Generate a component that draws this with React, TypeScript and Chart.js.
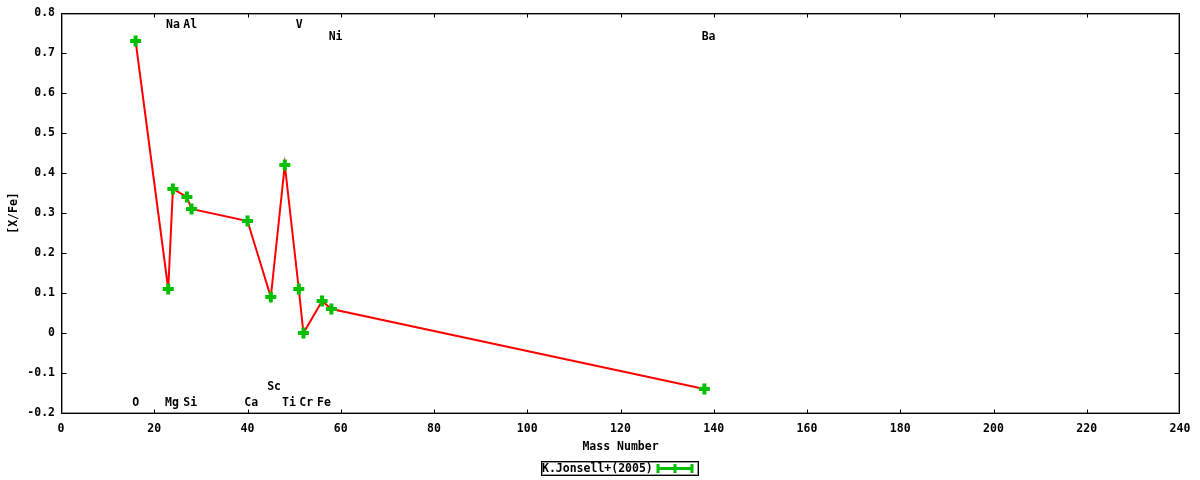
import React, { useEffect, useRef } from "react";
import { Chart, registerables } from "chart.js";

Chart.register(...registerables);

// Data: element mass numbers and [X/Fe] values (K. Jonsell+ 2005)
const elements = ["O", "Na", "Mg", "Al", "Si", "Ca", "Sc", "Ti", "V", "Cr", "Fe", "Ni", "Ba"];
const massNumbers = [16, 23, 24, 27, 28, 40, 45, 48, 51, 52, 56, 58, 138];
const xFeValues = [0.73, 0.11, 0.36, 0.34, 0.31, 0.28, 0.09, 0.42, 0.11, 0.0, 0.08, 0.06, -0.14];

// Element name labels placed in data coordinates
const labelNames = ["Na", "Al", "V", "Ni", "Ba", "O", "Mg", "Si", "Ca", "Sc", "Ti", "Cr", "Fe"];
const labelX = [24.0, 27.7, 51.1, 58.9, 138.9, 16.0, 23.8, 27.7, 40.8, 45.7, 48.9, 52.6, 56.4];
const labelY = [0.769, 0.769, 0.769, 0.739, 0.739, -0.175, -0.175, -0.175, -0.175, -0.135, -0.175, -0.175, -0.175];

const seriesName = "K.Jonsell+(2005)";
const xTitle = "Mass Number";
const yTitle = "[X/Fe]";

const FAMILY = "'DejaVu Sans Mono', 'Liberation Mono', monospace";
const FONT = "bold 11.5px " + FAMILY;
const LINE_RED = "#ff0000";
const POINT_GREEN = "#00c000";

const overlayPlugin = {
  id: "gnuplotOverlay",
  afterDraw(chart: any) {
    const ctx = chart.ctx as CanvasRenderingContext2D;
    const area = chart.chartArea;
    const xs = chart.scales.x;
    const ys = chart.scales.y;
    ctx.save();

    // element labels
    ctx.font = FONT;
    ctx.fillStyle = "#000";
    ctx.textAlign = "center";
    ctx.textBaseline = "middle";
    for (let i = 0; i < labelNames.length; i++) {
      ctx.fillText(labelNames[i], xs.getPixelForValue(labelX[i]), ys.getPixelForValue(labelY[i]));
    }

    // frame
    const l = Math.round(area.left) + 0.5;
    const r = Math.round(area.right) - 0.5;
    const t = Math.round(area.top) + 0.5;
    const b = Math.round(area.bottom) + 0.5;
    ctx.strokeStyle = "#999";
    ctx.lineWidth = 1;
    ctx.strokeRect(l + 1, t + 1, r - l - 2, b - t - 2);
    ctx.strokeStyle = "#000";
    ctx.strokeRect(l, t, r - l, b - t);

    // inward ticks (mirrored)
    ctx.beginPath();
    for (const tk of xs.ticks) {
      const px = Math.min(r, Math.max(l, Math.round(xs.getPixelForValue(tk.value)) + 0.5));
      ctx.moveTo(px, b);
      ctx.lineTo(px, b - 4);
      ctx.moveTo(px, t);
      ctx.lineTo(px, t + 4);
    }
    for (const tk of ys.ticks) {
      const py = Math.round(ys.getPixelForValue(tk.value)) + 0.5;
      ctx.moveTo(l, py);
      ctx.lineTo(l + 5, py);
      ctx.moveTo(r, py);
      ctx.lineTo(r - 5, py);
    }
    ctx.stroke();

    // axis titles
    ctx.fillStyle = "#000";
    ctx.textAlign = "center";
    ctx.textBaseline = "middle";
    ctx.fillText(xTitle, (area.left + area.right) / 2, 447);
    ctx.save();
    ctx.translate(14, (area.top + area.bottom) / 2);
    ctx.rotate(-Math.PI / 2);
    ctx.fillText(yTitle, 0, 0);
    ctx.restore();

    // legend box
    const boxL = 541.5, boxT = 461.5, boxW = 157, boxH = 14;
    ctx.strokeStyle = "#999";
    ctx.strokeRect(boxL + 1, boxT + 1, boxW - 2, boxH - 2);
    ctx.strokeStyle = "#000";
    ctx.strokeRect(boxL, boxT, boxW, boxH);
    ctx.textAlign = "left";
    ctx.fillText(seriesName, 542, boxT + boxH / 2 + 0.5);
    // legend sample: green line with error-bar caps
    ctx.strokeStyle = POINT_GREEN;
    ctx.lineWidth = 3;
    ctx.beginPath();
    ctx.moveTo(657, 468.5);
    ctx.lineTo(693, 468.5);
    ctx.moveTo(658, 464);
    ctx.lineTo(658, 473);
    ctx.moveTo(692, 464);
    ctx.lineTo(692, 473);
    ctx.moveTo(675, 464);
    ctx.lineTo(675, 473);
    ctx.stroke();

    ctx.restore();
  },
};

export default function App() {
  const canvasRef = useRef<HTMLCanvasElement | null>(null);

  useEffect(() => {
    document.body.style.margin = "0";
    const canvas = canvasRef.current;
    if (!canvas) return;
    const tickFont = { family: FAMILY, size: 11.5, weight: "bold" as const };
    const chart = new Chart(canvas, {
      type: "line",
      data: {
        datasets: [
          {
            label: seriesName,
            data: massNumbers.map((m, i) => ({ x: m, y: xFeValues[i] })),
            borderColor: LINE_RED,
            borderWidth: 2,
            pointStyle: "cross",
            pointRadius: 5.5,
            pointBorderWidth: 4,
            pointBorderColor: POINT_GREEN,
            pointBackgroundColor: POINT_GREEN,
            tension: 0,
            fill: false,
          },
        ],
      },
      options: {
        responsive: false,
        animation: false,
        layout: { padding: { left: 0, right: 20, top: 13, bottom: 0 } },
        plugins: {
          legend: { display: false },
          tooltip: { enabled: false },
        },
        scales: {
          x: {
            type: "linear",
            min: 0,
            max: 240,
            border: { display: false },
            grid: { display: false, drawTicks: false },
            ticks: {
              stepSize: 20,
              padding: 9,
              color: "#000",
              maxRotation: 0,
              font: tickFont,
            },
            afterFit: (scale: any) => {
              scale.height = 67;
            },
          },
          y: {
            type: "linear",
            min: -0.2,
            max: 0.8,
            border: { display: false },
            grid: { display: false, drawTicks: false },
            ticks: {
              stepSize: 0.1,
              padding: 6,
              color: "#000",
              font: tickFont,
              callback: (v: any) => (Math.abs(Number(v)) < 1e-9 ? "0" : Number(v).toFixed(1)),
            },
            afterFit: (scale: any) => {
              scale.width = 61;
            },
          },
        },
      },
      plugins: [overlayPlugin],
    });
    return () => chart.destroy();
  }, []);

  return (
    <div style={{ width: 1200, height: 480 }}>
      <canvas ref={canvasRef} width={1200} height={480} style={{ display: "block" }} />
    </div>
  );
}
